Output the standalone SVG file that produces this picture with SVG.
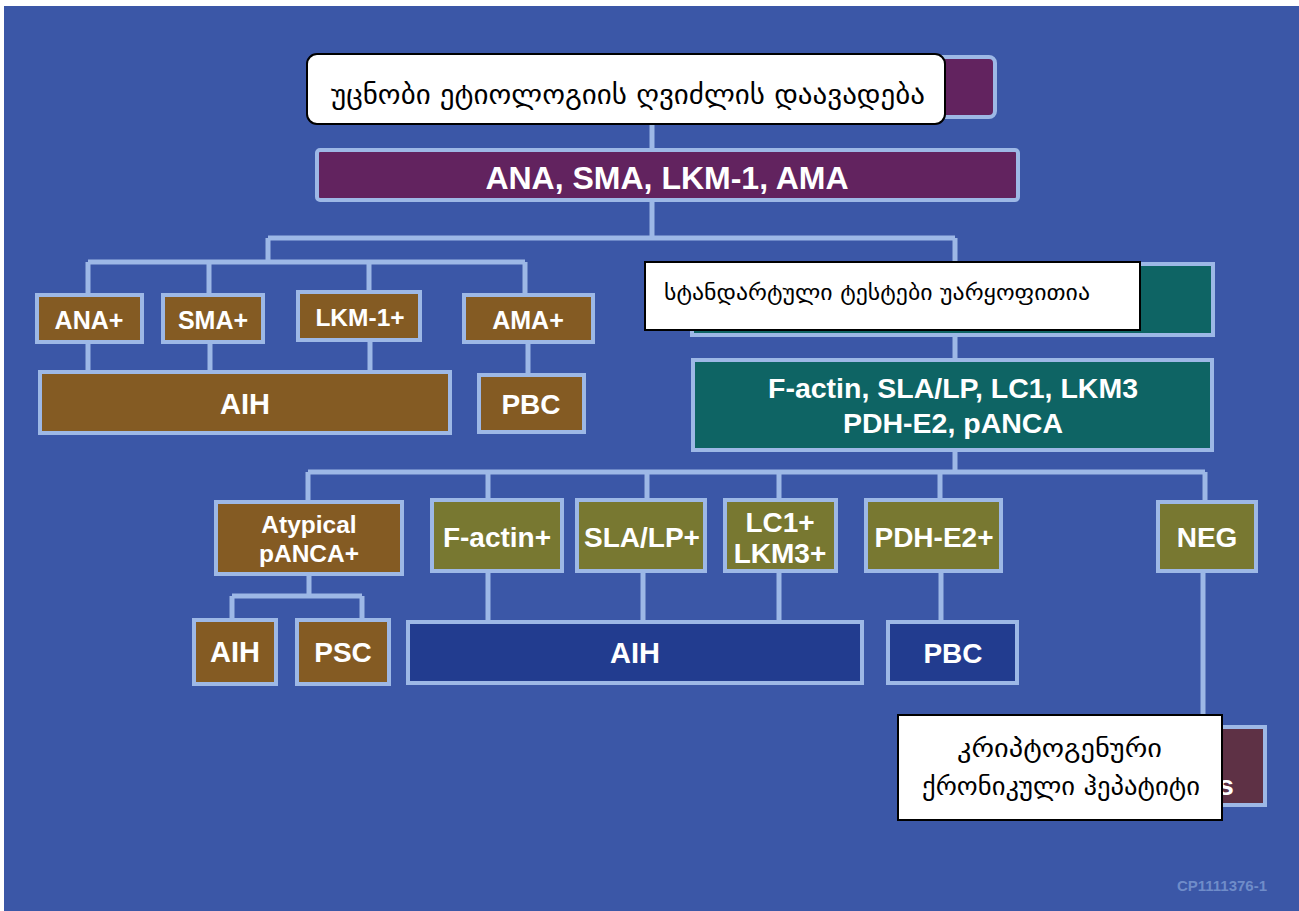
<svg xmlns="http://www.w3.org/2000/svg" width="1299" height="911" viewBox="0 0 1299 911">
<style>
.bx{stroke:#9DB8E6;stroke-width:4}
.purple{fill:#62235F}
.brown{fill:#845B23}
.teal{fill:#0E6464}
.olive{fill:#787831}
.dblue{fill:#223C8F}
.maroon{fill:#5E3145}
.t{font-family:"Liberation Sans",Arial,sans-serif;font-weight:bold;fill:#FFFFFF;text-anchor:middle}
.geo{font-family:"DejaVu Sans","Noto Sans",sans-serif;fill:#000000}
.wb{fill:#FFFFFF;stroke:#000000;stroke-width:2}
.cn{fill:none;stroke:#9DB8E6;stroke-width:5}
</style>
<rect x="0" y="0" width="1299" height="911" fill="#FFFFFF"/>
<rect x="4" y="6" width="1295" height="905" fill="#3B57A7"/>

<g id="connectors">
<path class="cn" d="M652 120 V150"/>
<path class="cn" d="M652 200 V238 M268 238 H955 M268 238 V262 M88 262 H525 M88 262 V295 M209 262 V295 M369 262 V292 M525 262 V295"/>
<path class="cn" d="M88 342 V372 M210 342 V372 M370 340 V372 M528 342 V375"/>
<path class="cn" d="M955 238 V262 M955 335 V360 M955 450 V472 M308 472 H1205 M308 472 V502 M488 472 V500 M647 472 V500 M779 472 V500 M940 472 V500 M1205 472 V502"/>
<path class="cn" d="M309 574 V596 M232 596 H362 M232 596 V620 M362 596 V620"/>
<path class="cn" d="M488 571 V622 M643 571 V622 M779 571 V622 M941 571 V622 M1203 571 V727"/>
</g>

<g id="n-top-hidden"><rect class="bx purple" x="312" y="57" width="683" height="60" rx="6"/></g>
<g id="n-title"><rect x="307" y="54" width="638" height="70" rx="10" fill="#FFFFFF" stroke="#000000" stroke-width="2"/>
<text class="geo" x="331" y="104" font-size="28" textLength="594" lengthAdjust="spacingAndGlyphs">უცნობი ეტიოლოგიის ღვიძლის დაავადება</text></g>

<g id="n-abs"><rect class="bx purple" x="317" y="150" width="701" height="50" rx="3"/><text class="t" x="667" y="189" font-size="32">ANA, SMA, LKM-1, AMA</text></g>

<g id="n-ana"><rect class="bx brown" x="37" y="295" width="105" height="47"/><text class="t" x="89" y="329" font-size="25">ANA+</text></g>
<g id="n-sma"><rect class="bx brown" x="163" y="295" width="100" height="47"/><text class="t" x="213" y="329" font-size="25">SMA+</text></g>
<g id="n-lkm"><rect class="bx brown" x="298" y="292" width="122" height="48"/><text class="t" x="360" y="326" font-size="24.5">LKM-1+</text></g>
<g id="n-ama"><rect class="bx brown" x="464" y="295" width="129" height="47"/><text class="t" x="528" y="329" font-size="25">AMA+</text></g>
<g id="n-aih1"><rect class="bx brown" x="40" y="372" width="410" height="61"/><text class="t" x="245" y="414" font-size="29">AIH</text></g>
<g id="n-pbc1"><rect class="bx brown" x="479" y="375" width="105" height="57"/><text class="t" x="531" y="414" font-size="28">PBC</text></g>

<g id="n-std"><rect class="bx teal" x="692" y="264" width="521" height="71"/>
<rect class="wb" x="645" y="262" width="495" height="68"/>
<text class="geo" x="664" y="300" font-size="22" textLength="426" lengthAdjust="spacingAndGlyphs">სტანდარტული ტესტები უარყოფითია</text></g>

<g id="n-ext"><rect class="bx teal" x="693" y="360" width="519" height="90"/>
<text class="t" x="953" y="398" font-size="28.5">F-actin, SLA/LP, LC1, LKM3</text>
<text class="t" x="953" y="433" font-size="28.5">PDH-E2, pANCA</text></g>

<g id="n-atyp"><rect class="bx brown" x="216" y="502" width="186" height="72"/>
<text class="t" x="309" y="533" font-size="24.5">Atypical</text><text class="t" x="309" y="562" font-size="24.5">pANCA+</text></g>
<g id="n-factin"><rect class="bx olive" x="432" y="500" width="130" height="71"/><text class="t" x="497" y="547" font-size="28">F-actin+</text></g>
<g id="n-sla"><rect class="bx olive" x="577" y="500" width="128" height="71"/><text class="t" x="642" y="547" font-size="28">SLA/LP+</text></g>
<g id="n-lc1"><rect class="bx olive" x="725" y="500" width="111" height="71"/><text class="t" x="780" y="532" font-size="28">LC1+</text><text class="t" x="780" y="563" font-size="28">LKM3+</text></g>
<g id="n-pdh"><rect class="bx olive" x="866" y="500" width="135" height="71"/><text class="t" x="934" y="547" font-size="28">PDH-E2+</text></g>
<g id="n-neg"><rect class="bx olive" x="1158" y="502" width="98" height="69"/><text class="t" x="1207" y="547" font-size="28">NEG</text></g>

<g id="n-aih2"><rect class="bx brown" x="194" y="620" width="82" height="64"/><text class="t" x="235" y="662" font-size="29">AIH</text></g>
<g id="n-psc"><rect class="bx brown" x="297" y="620" width="92" height="64"/><text class="t" x="343" y="662" font-size="28">PSC</text></g>
<g id="n-aih3"><rect class="bx dblue" x="408" y="622" width="454" height="61"/><text class="t" x="635" y="663" font-size="29">AIH</text></g>
<g id="n-pbc2"><rect class="bx dblue" x="888" y="622" width="129" height="61"/><text class="t" x="953" y="663" font-size="28">PBC</text></g>

<g id="n-crypto"><rect class="bx maroon" x="1193" y="727" width="72" height="78"/>
<text class="t" x="1226" y="795" font-size="28">s</text>
<rect class="wb" x="898" y="715" width="324" height="105"/>
<text class="geo" x="957" y="757" font-size="26" textLength="205" lengthAdjust="spacingAndGlyphs">კრიპტოგენური</text>
<text class="geo" x="922" y="795" font-size="26" textLength="278" lengthAdjust="spacingAndGlyphs">ქრონიკული ჰეპატიტი</text></g>

<text x="1222" y="891" font-family="Liberation Sans,Arial,sans-serif" font-weight="bold" font-size="15" fill="#6F8CC9" text-anchor="middle">CP1111376-1</text>
</svg>
